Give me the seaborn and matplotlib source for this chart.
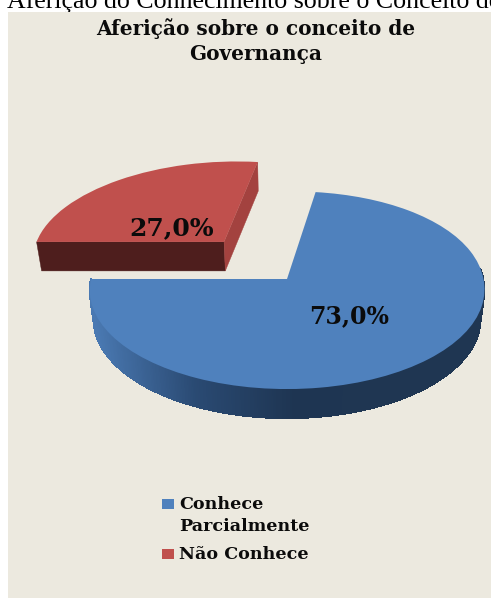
import numpy as np
import matplotlib
matplotlib.use("Agg")
import matplotlib.pyplot as plt
from matplotlib.patches import Polygon, Rectangle
from matplotlib.collections import PolyCollection
from matplotlib.transforms import Transform
import seaborn as sns

# Survey result
categories = ["Conhece\nParcialmente", "Não Conhece"]
shares = [73.0, 27.0]
heading = "Aferição do Conhecimento sobre o Conceito de"
title = "Aferição sobre o conceito de\nGovernança"
explode = [0.0, 0.53]

BG = "#ECE9DF"
BLUE, RED = "#4F81BD", "#C0504D"
SERIF = "DejaVu Serif"

# Perspective of the disk seen from above, in figure pixels
CX, CY, RX = 287.0, 279.0, 196.0
PA, PB, SKEW = 97.5, 0.114, 0.075
DEPTH, BOTTOM_SCALE = 29.0, 0.98


def project(u, v):
    u, v = np.asarray(u, float), np.asarray(v, float)
    den = 1 + PB * v
    lift = PA * v / den
    return CX + RX * u / den + SKEW * np.maximum(lift, 0), CY - lift


def project_bottom(u, v):
    x, y = project(u, v)
    return CX + (x - CX) * BOTTOM_SCALE, y + DEPTH


class DiskProjection(Transform):
    input_dims = output_dims = 2
    is_separable = False
    has_inverse = False

    def transform_non_affine(self, values):
        x, y = project(values[:, 0], values[:, 1])
        return np.column_stack([x, y])


sns.set_theme(style="white")
fig = plt.figure(figsize=(4.91, 5.98), dpi=100, facecolor="white")
ax = fig.add_axes([0, 0, 1, 1])

wedges, _, autotexts = ax.pie(
    shares,
    explode=explode,
    colors=[BLUE, RED],
    startangle=180 - 360 * shares[1] / 100,
    counterclock=False,
    radius=1,
    autopct=lambda p: f"{p:.1f}%".replace(".", ","),
    wedgeprops={"linewidth": 0, "zorder": 3},
)
ax.set_aspect("auto")
ax.set_xlim(0, 491)
ax.set_ylim(598, 0)
ax.axis("off")

disk = DiskProjection() + ax.transData
for w in wedges:
    w.set_transform(disk)

# Curved wall of the large slice, shaded left to right
side_cmap = sns.blend_palette(["#4A79B2", "#2A4A73", "#1E3552", "#1F3652"], as_cmap=True)
angles = np.radians(np.linspace(180, 366, 373))
quads, shade = [], []
for a, b in zip(angles[:-1], angles[1:]):
    ua, va, ub, vb = np.cos(a), np.sin(a), np.cos(b), np.sin(b)
    xa, ya = project(ua, va)
    xb, yb = project(ub, vb)
    xc, yc = project_bottom(ub, vb)
    xd, yd = project_bottom(ua, va)
    quads.append([(xa, ya), (xb, yb), (xc, yc), (xd, yd)])
    shade.append(np.clip(((xa + xb) / 2 - 95) / 300, 0, 1))
ax.add_collection(PolyCollection(quads, facecolors=side_cmap(shade), edgecolors=side_cmap(shade),
                                 linewidths=0.8, antialiaseds=False, zorder=1))

# Cut faces of the pulled-out slice
w1 = wedges[1]
u0, v0 = w1.center
t_far = np.radians(min(w1.theta1, w1.theta2) % 360)
t_left = np.radians(180.0)
for t, col in [(t_left, "#4E1E1D"), (t_far, "#A3423F")]:
    pts_u = [u0, u0 + np.cos(t)]
    pts_v = [v0, v0 + np.sin(t)]
    tx, ty = project(pts_u, pts_v)
    bx, by = project_bottom(pts_u, pts_v)
    ax.add_patch(Polygon(np.column_stack([np.r_[tx, bx[::-1]], np.r_[ty, by[::-1]]]),
                         facecolor=col, edgecolor=col, linewidth=0.3, zorder=2))

# Percentage labels
label_xy = [(349, 316), (172, 228)]
label_size = [17, 18]
for txt, xy, size in zip(autotexts, label_xy, label_size):
    txt.set_position(xy)
    txt.set_transform(ax.transData)
    txt.set(fontfamily=SERIF, fontweight="bold", fontsize=size, color="#0B0B0B",
            ha="center", va="center", zorder=5)

# Running heading, overlapped by the panel below it
ax.text(7, 8, heading, fontfamily="Liberation Serif", fontsize=18.6, color="black",
        ha="left", va="baseline", zorder=0.5)
ax.add_patch(Rectangle((8, 12), 483, 586, facecolor=BG, edgecolor="none", zorder=0.6))

# Chart title
title_lines = title.split("\n")
for line, base in zip(title_lines, [35, 60]):
    ax.text(255.5, base, line, fontfamily=SERIF, fontweight="bold", fontsize=14.4,
            color="#0B0B0B", ha="center", va="baseline", zorder=5)

# Legend
swatches = [(162, 499), (162, 549)]
for (sx, sy), col in zip(swatches, [BLUE, RED]):
    ax.add_patch(Rectangle((sx, sy), 12, 10, facecolor=col, edgecolor="none", zorder=5))
leg_text = categories[0].split("\n") + [categories[1]]
for s, base in zip(leg_text, [509, 531, 559]):
    ax.text(179, base, s, fontfamily=SERIF, fontweight="bold", fontsize=12.6,
            color="#0B0B0B", ha="left", va="baseline", zorder=5)

fig.savefig("out.png", dpi=100)
